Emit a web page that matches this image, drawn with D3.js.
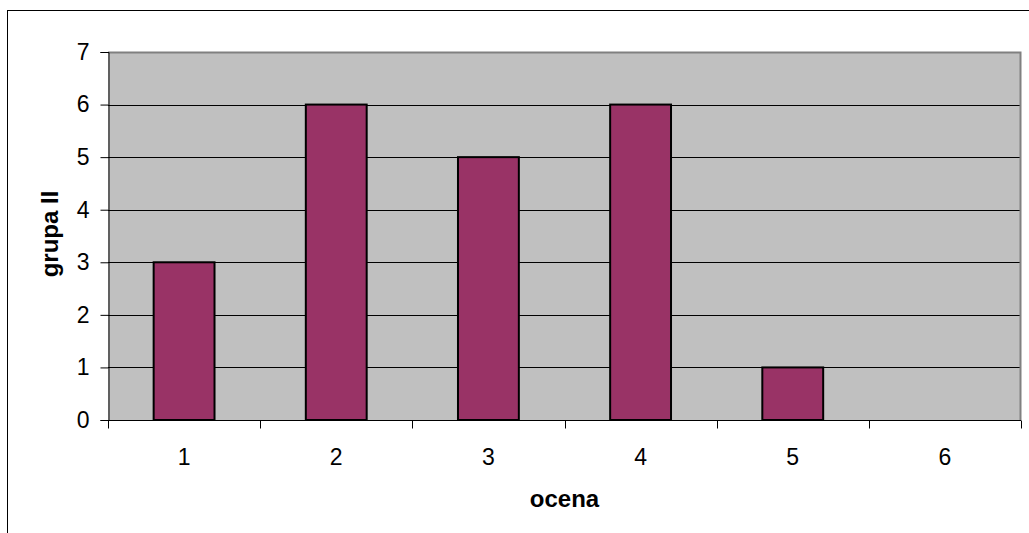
<!DOCTYPE html>
<meta charset="utf-8">
<style>
body { margin: 0; background: #fff; }
svg { font-family: "Liberation Sans", Arial, sans-serif; }
</style>
<body>
<script src="https://d3js.org/d3.v7.min.js"></script>
<script>
// data
const categories = ["1", "2", "3", "4", "5", "6"];
const values = [3, 6, 5, 6, 1, 0];
const yTicks = [0, 1, 2, 3, 4, 5, 6, 7];
const xTitle = "ocena";
const yTitle = "grupa II";

const W = 1029, H = 533;
const plot = { left: 108, top: 52, right: 1021, bottom: 420 };

const svg = d3.select("body").append("svg")
    .attr("width", W)
    .attr("height", H);

// outer chart frame (clipped on right/bottom like the original)
svg.append("rect")
    .attr("x", 7.5).attr("y", 10.5)
    .attr("width", W + 10).attr("height", H + 10)
    .attr("fill", "#fff")
    .attr("stroke", "#000")
    .attr("stroke-width", 1);

const x = d3.scaleBand()
    .domain(categories)
    .range([plot.left, plot.right])
    .paddingInner(0.6)
    .paddingOuter(0.3);

const xOuter = d3.scaleBand()
    .domain(categories)
    .range([plot.left, plot.right]);

const y = d3.scaleLinear()
    .domain([0, 7])
    .range([plot.bottom, plot.top]);

// plot background
svg.append("rect")
    .attr("x", plot.left).attr("y", plot.top)
    .attr("width", plot.right - plot.left)
    .attr("height", plot.bottom - plot.top)
    .attr("fill", "#c0c0c0");

// grid lines
svg.append("g").selectAll("line")
    .data(yTicks.filter(d => d > 0 && d < 7))
    .join("line")
    .attr("x1", plot.left).attr("x2", plot.right)
    .attr("y1", d => Math.round(y(d)) + 0.5)
    .attr("y2", d => Math.round(y(d)) + 0.5)
    .attr("stroke", "#000")
    .attr("stroke-width", 1);

// plot border top/right (gray)
svg.append("path")
    .attr("d", `M${plot.left},${plot.top + 0.5}H${plot.right - 0.5}V${plot.bottom}`)
    .attr("fill", "none")
    .attr("stroke", "#808080")
    .attr("stroke-width", 2);

// bars
svg.append("g").selectAll("rect")
    .data(values.map((v, i) => ({ c: categories[i], v })).filter(d => d.v > 0))
    .join("rect")
    .attr("x", d => x(d.c))
    .attr("y", d => y(d.v))
    .attr("width", x.bandwidth())
    .attr("height", d => y(0) - y(d.v))
    .attr("fill", "#993366")
    .attr("stroke", "#000")
    .attr("stroke-width", 2);

// y axis
const yAxis = d3.axisLeft(y)
    .tickValues(yTicks)
    .tickSize(8)
    .tickPadding(11)
    .tickFormat(d3.format("d"));
const gy = svg.append("g")
    .attr("transform", `translate(${plot.left + 0.5},0)`)
    .call(yAxis);
gy.selectAll("text").attr("font-size", 23).attr("fill", "#000").style("font-family", "inherit");
gy.selectAll("line").attr("stroke", "#000");
gy.select(".domain").attr("stroke", "#000");

// x axis
const xAxis = d3.axisBottom(xOuter)
    .tickSize(0)
    .tickPadding(28);
const gx = svg.append("g")
    .attr("transform", `translate(0,${plot.bottom + 0.5})`)
    .call(xAxis);
gx.selectAll("text").attr("font-size", 23).attr("fill", "#000").style("font-family", "inherit");
gx.select(".domain").attr("stroke", "#000").attr("d", `M${plot.left},0H${plot.right}`);

// x tick marks at category boundaries
gx.append("g").selectAll("line")
    .data(categories.map(c => xOuter(c)).concat([plot.right]))
    .join("line")
    .attr("x1", d => Math.round(d) + 0.5).attr("x2", d => Math.round(d) + 0.5)
    .attr("y1", 0).attr("y2", 8)
    .attr("stroke", "#000");

// axis titles
svg.append("text")
    .attr("x", (plot.left + plot.right) / 2)
    .attr("y", 507)
    .attr("text-anchor", "middle")
    .attr("font-size", 24)
    .attr("font-weight", "bold")
    .text(xTitle);

svg.append("text")
    .attr("transform", `translate(58,234) rotate(-90)`)
    .attr("text-anchor", "middle")
    .attr("font-size", 24)
    .attr("font-weight", "bold")
    .text(yTitle);
</script>
</body>
